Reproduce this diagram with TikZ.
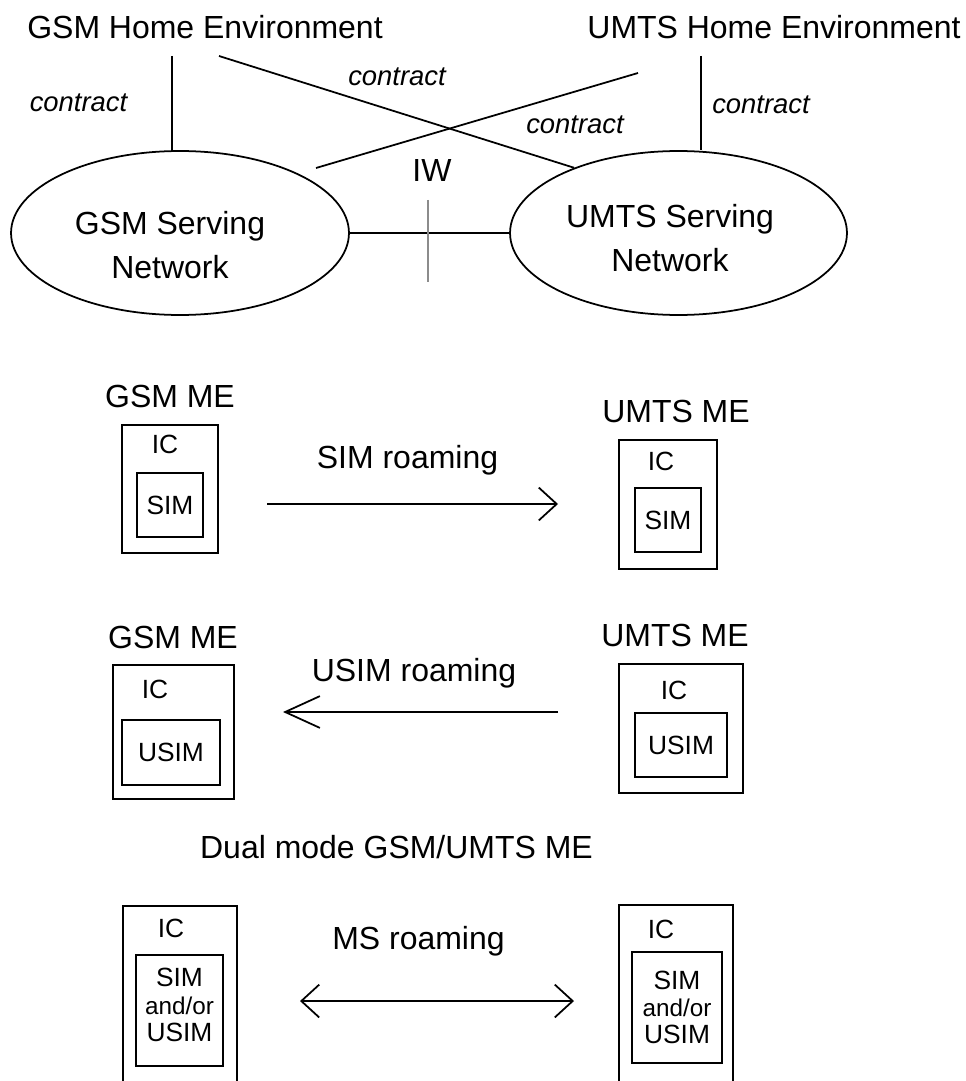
\documentclass[tikz,border=0pt]{standalone}
\usepackage{fontspec}
\setmainfont{Liberation Sans}
\usetikzlibrary{shapes.geometric,arrows.meta,calc}
\definecolor{iwgray}{RGB}{140,140,140}

\begin{document}
\begin{tikzpicture}[x=0.02cm,y=-0.02cm,line width=1pt,
  bigtext/.style={font=\fontsize{18.2}{25}\selectfont},
  smalltext/.style={font=\fontsize{15}{17}\selectfont},
  bothtext/.style={font=\fontsize{15}{15.6}\selectfont,align=center},
  contracttext/.style={font=\fontsize{15.6}{18}\selectfont\itshape},
  netshape/.style={draw,ellipse,minimum width=6.76cm,minimum height=3.28cm},
  roamarrow/.style={-{Straight Barb[length=10.2pt,width=18.7pt]}},
  roamlong/.style={-{Straight Barb[length=19.8pt,width=18.1pt]}},
  roamboth/.style={{Straight Barb[length=10.2pt,width=18.7pt]}-{Straight Barb[length=10.2pt,width=18.7pt]}}]
\useasboundingbox (0,0) rectangle (966,1081);

% home environments and serving networks
\node[bigtext] (gsmhe) at (205,27.5) {GSM Home Environment};
\node[bigtext] (umtshe) at (774,27.5) {UMTS Home Environment};
\node[netshape] (gsmsn) at (180,233) {};
\node[netshape,minimum width=6.74cm] (umtssn) at (678.5,233) {};
\node[bigtext,align=center] (gsmsntext) at (170,245) {GSM Serving\\Network};
\node[bigtext,align=center] (umtssntext) at (670,238.5) {UMTS Serving\\Network};
\node[bigtext] (iw) at (432,171) {IW};

\coordinate (gsmdown) at (172,56);
\coordinate (umtsdown) at (701,56);
\coordinate (gsmcross) at (219,56);
\coordinate (umtscross) at (638,73);
\coordinate (crossend) at (316,168);

\draw (gsmdown) -- (gsmdown |- gsmsn.north);
\draw (umtsdown) -- (umtsdown |- umtssn.north);
\draw (gsmcross) -- (umtssn.148);
\draw (umtscross) -- (crossend);
\draw (gsmsn.east) -- (umtssn.west);
\draw[iwgray] ($(iw)+(-4,29)$) -- ($(iw)+(-4,111)$);

\node[contracttext] (c1) at (78.5,103) {contract};
\node[contracttext] (c2) at (397,77) {contract};
\node[contracttext] (c3) at (575,125) {contract};
\node[contracttext] (c4) at (761,105) {contract};

% SIM roaming
\node[bigtext] (gsmme1) at (170,396) {GSM ME};
\draw (122,425) rectangle (218,553);
\node[smalltext] (ic1) at (165,444) {IC};
\draw (137,473) rectangle node[smalltext] (sim1) {SIM} (203,537);
\node[bigtext] (umtsme1) at (676,411) {UMTS ME};
\draw (619,440) rectangle (717,569);
\node[smalltext] (ic2) at (661,461) {IC};
\draw (635,488) rectangle node[smalltext] (sim2) {SIM} (701,552);
\node[bigtext] (simroam) at (407.5,460.5) {SIM roaming};
\draw[roamarrow] ($(sim1)+(97,-1)$) -- ($(sim2)+(-110,-16)$);

% USIM roaming
\node[bigtext] (gsmme2) at (173,637) {GSM ME};
\draw (113,665) rectangle (234,799);
\node[smalltext] (ic3) at (155,689) {IC};
\draw (122,720) rectangle node[smalltext] (usim1) {USIM} (220,785);
\node[bigtext] (umtsme2) at (675,635) {UMTS ME};
\draw (619,664) rectangle (743,793);
\node[smalltext] (ic4) at (674,690) {IC};
\draw (635,713) rectangle node[smalltext] (usim2) {USIM} (727,777);
\node[bigtext] (usimroam) at (414,673.5) {USIM roaming};
\draw[roamlong] ($(usim2)+(-123,-33)$) -- ($(usim1)+(112,-40.5)$);

% MS roaming
\node[bigtext] (dualme) at (396.5,847.5) {Dual mode GSM/UMTS ME};
\draw (123,1081) |- (237,906) -- (237,1081);
\node[smalltext] (ic5) at (171,928) {IC};
\draw (136,955) rectangle node[bothtext,yshift=3pt] (both1) {SIM\\{\fontsize{13.8}{15.6}\selectfont and/or}\\USIM} (223,1066);
\draw (619,1081) |- (733,905) -- (733,1081);
\node[smalltext] (ic6) at (661,929) {IC};
\draw (632,952) rectangle node[bothtext] (both2) {SIM\\{\fontsize{13.8}{15.6}\selectfont and/or}\\USIM} (722,1063);
\node[bigtext] (msroam) at (418.5,941.5) {MS roaming};
\draw[roamboth] ($(both1)+(120.5,-4.2)$) -- ($(both2)+(-103,-6.5)$);
\end{tikzpicture}
\end{document}
